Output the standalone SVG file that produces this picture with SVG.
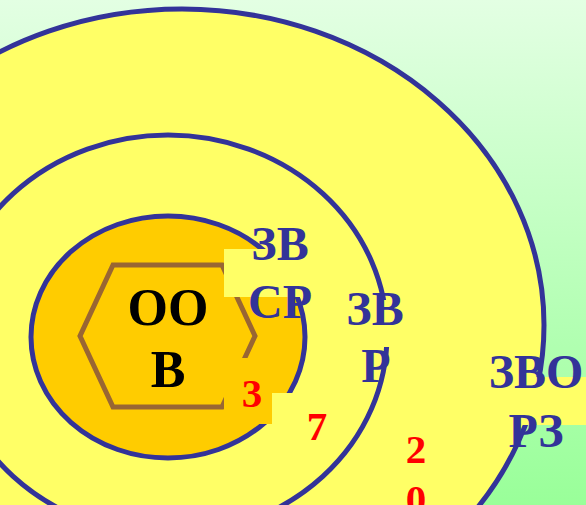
<svg xmlns="http://www.w3.org/2000/svg" width="586" height="505" viewBox="0 0 586 505">
<defs>
<linearGradient id="bg" x1="0" y1="0" x2="0" y2="1">
<stop offset="0" stop-color="#E3FFE3"/>
<stop offset="1" stop-color="#99FF99"/>
</linearGradient>
<style>
.ring{stroke:#333399;stroke-width:5}
.zone{fill:#FFFF66}
.core{fill:#FFCC00}
.hex{fill:none;stroke:#996633;stroke-width:5}
.box-y{fill:#FFFF66}
.box-o{fill:#FFCC00}
.lbl{font-family:"Liberation Serif","Times New Roman",serif;font-weight:bold;text-anchor:middle}
.blue{fill:#333399;font-size:48px}
.black{fill:#000000;font-size:52px}
.red{fill:#FF0000;font-size:41px}
</style>
</defs>
<rect id="background" x="0" y="0" width="586" height="505" fill="url(#bg)"/>
<g id="zone-zvorz">
<ellipse class="ring zone" cx="182" cy="325" rx="362" ry="316"/>
</g>
<g id="zone-zvr">
<ellipse class="ring zone" cx="168" cy="335" rx="219" ry="200"/>
</g>
<g id="zone-zvsr">
<ellipse class="ring core" cx="168" cy="337" rx="137" ry="121"/>
</g>
<g id="node-oov">
<polygon class="hex" points="113,265 222,265 255,336 222,407 113,407 80,336"/>
<text class="lbl black" x="168" y="325">ОО</text>
<text class="lbl black" x="168" y="387">В</text>
</g>
<g id="label-zvsr">
<rect class="box-y" x="224" y="249" width="94" height="48"/>
<text class="lbl blue" x="280" y="260">ЗВ</text>
<text class="lbl blue" x="280" y="318">СР</text>
</g>
<g id="label-7">
<rect class="box-y" x="272" y="393" width="66" height="56"/>
<text class="lbl red" x="317" y="440">7</text>
</g>
<g id="label-3">
<rect class="box-o" x="224" y="358" width="48" height="66"/>
<text class="lbl red" x="252" y="407">3</text>
</g>
<g id="label-zvr">
<rect class="box-y" x="340" y="300" width="70" height="47"/>
<text class="lbl blue" x="375" y="325">ЗВ</text>
<text class="lbl blue" x="376" y="382">Р</text>
</g>
<g id="label-20">
<text class="lbl red" x="416" y="463">2</text>
<text class="lbl red" x="416" y="513">0</text>
</g>
<g id="label-zvorz">
<rect class="box-y" x="520" y="377" width="66" height="48"/>
<text class="lbl blue" x="536" y="388">ЗВО</text>
<text class="lbl blue" x="536" y="447">РЗ</text>
</g>
<g id="connectors"/>
</svg>
